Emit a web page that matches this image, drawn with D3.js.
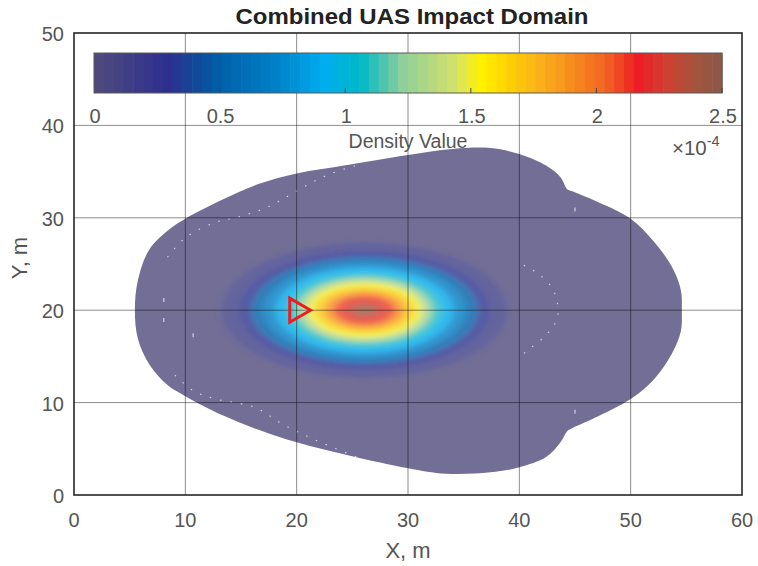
<!DOCTYPE html>
<html>
<head>
<meta charset="utf-8">
<script src="https://cdn.jsdelivr.net/npm/d3@7"></script>
<style>
  body { margin: 0; background: #fff; }
  text { font-family: "Liberation Sans", Arial, sans-serif; }
</style>
</head>
<body>
<svg id="chart" width="758" height="566"></svg>
<script>
// axis ticks
const xTicks = [0, 10, 20, 30, 40, 50, 60];
const yTicks = [0, 10, 20, 30, 40, 50];
const cbTicks = [0, 0.5, 1, 1.5, 2, 2.5];

// colormap stops (fraction of colorbar range -> colour)
const cmapPos = [0, 0.116, 0.174, 0.205, 0.29, 0.365, 0.424, 0.49, 0.575, 0.615, 0.655, 0.707, 0.75, 0.814, 0.866, 0.909, 0.962, 1];
const cmapCol = ["#4f4b7d", "#2e2f8f", "#0b4f9c", "#0062ab", "#0080c6", "#00adef", "#00b8c8", "#8dcf9c", "#d4e16b",
  "#fff200", "#ffd400", "#fbb31b", "#f7941d", "#f26522", "#ed1c24", "#d13f31", "#a0553f", "#8b5848"];

// outline of the combined impact domain (x, y in m)
const blobEdge = [
  [5.47, 20], [5.73, 23.2], [6.73, 26.5], [8.4, 28.6], [10, 29.9], [13.4, 32.0], [16.7, 33.7], [20, 34.8],
  [24.7, 35.75], [30, 36.8], [34, 37.45], [37.4, 37.55], [40, 36.9], [42.4, 35.65], [43.7, 34.4], [44.3, 33.1],
  [44.7, 32.9], [46.7, 31.9], [50, 29.9], [52, 27.55], [53.7, 24.7], [54.5, 22.2], [54.6, 20],
  [54.5, 17.7], [53.7, 15.3], [52, 12.4], [50, 10.4], [46.7, 8.3], [44.7, 7.2], [44.3, 6.9], [43.7, 5.7],
  [42.4, 4.1], [40, 3.0], [37.4, 2.45], [33.4, 2.3], [30, 2.9], [24.7, 4.28], [20, 5.7], [16.7, 7.0],
  [13.4, 8.6], [10, 10.7], [8.4, 11.9], [6.73, 14.2], [5.73, 16.96]
];

// faint white seams inside the domain
const seamUpper = [[8.4, 25.75], [10.07, 27.9], [12.7, 29.5], [14.7, 30.07], [17.4, 31.15], [20.07, 32.95], [22.7, 34.6], [25.7, 35.8]];
const seamLower = [[9.07, 12.97], [10.7, 11.3], [12.7, 10.4], [16.2, 9.5], [18.7, 7.7], [21.4, 6.1], [25.4, 4.1]];
const seamRight = [[40.4, 24.86], [41.7, 23.95], [42.9, 22.5], [43.4, 20.9], [43.4, 19.1], [42.4, 17.3], [41.0, 15.9], [40.2, 15.1]];
const seamDots = [[8.07, 21.1], [8.07, 18.95], [10.7, 17.3], [45.0, 30.9], [45.0, 9.0]];

// density contours: level (x1e-4) and half-widths in m
const densityCenter = [26.1, 20];
const densityLevels = [0.15, 0.3, 0.5, 0.7, 0.9, 1.1, 1.3, 1.5, 1.7, 1.9, 2.1, 2.25, 2.4];
const densityRx = [12.8, 11.2, 10.2, 9.1, 8.0, 6.9, 6.0, 5.2, 4.4, 3.6, 2.8, 2.0, 1.1];
const densityRy = [7.3, 6.4, 5.8, 5.2, 4.6, 4.0, 3.5, 3.0, 2.5, 2.05, 1.6, 1.15, 0.65];

// launch point marker
const markerPos = [20, 20];

const svg = d3.select("#chart");
const margin = {top: 33, right: 16, bottom: 71, left: 74};
const W = 758, H = 566;

const x = d3.scaleLinear().domain([0, 60]).range([margin.left, W - margin.right]);
const y = d3.scaleLinear().domain([0, 50]).range([H - margin.bottom, margin.top]);

const cmap = d3.scaleLinear().domain(cmapPos).range(cmapCol).interpolate(d3.interpolateRgb).clamp(true);
const cb = d3.scaleLinear().domain([0, 2.5]).range([94, 722]);
const cbTop = 53, cbBot = 93;

const defs = svg.append("defs");
defs.append("clipPath").attr("id", "plotclip")
  .append("rect").attr("x", x(0)).attr("y", y(50)).attr("width", x(60) - x(0)).attr("height", y(0) - y(50));
defs.append("filter").attr("id", "soft").attr("x", "-20%").attr("y", "-20%").attr("width", "140%").attr("height", "140%")
  .append("feGaussianBlur").attr("stdDeviation", "3.5 2.2");

// domain + density, semi-transparent as a whole
const surf = svg.append("g").attr("clip-path", "url(#plotclip)").attr("opacity", 0.8);
const line = d3.line().x(d => x(d[0])).y(d => y(d[1]));

surf.append("path")
  .attr("d", line.curve(d3.curveCatmullRomClosed.alpha(0.5))(blobEdge))
  .attr("fill", cmap(0));

const dens = surf.append("g").attr("filter", "url(#soft)");
dens.selectAll("ellipse")
  .data(densityLevels)
  .join("ellipse")
  .attr("cx", x(densityCenter[0]))
  .attr("cy", y(densityCenter[1]))
  .attr("rx", (d, i) => x(densityCenter[0] + densityRx[i]) - x(densityCenter[0]))
  .attr("ry", (d, i) => y(densityCenter[1]) - y(densityCenter[1] + densityRy[i]))
  .attr("fill", d => cmap(d / 2.5));

// seams
const seamLine = d3.line().x(d => x(d[0])).y(d => y(d[1])).curve(d3.curveCatmullRom);
const seams = svg.append("g").attr("stroke", "#fff").attr("opacity", 0.75).attr("fill", "none");
seams.selectAll("path")
  .data([seamUpper, seamLower, seamRight])
  .join("path")
  .attr("d", seamLine)
  .attr("stroke-width", 1.1)
  .attr("stroke-dasharray", "1.5 9");
seams.selectAll("line")
  .data(seamDots)
  .join("line")
  .attr("x1", d => x(d[0])).attr("x2", d => x(d[0]))
  .attr("y1", d => y(d[1]) - 2).attr("y2", d => y(d[1]) + 2)
  .attr("stroke-width", 1.1);

// grid
const grid = svg.append("g").attr("stroke", "#000").attr("stroke-opacity", 0.45).attr("stroke-width", 1);
grid.selectAll("line.gx").data(xTicks.slice(1, -1)).join("line").attr("class", "gx")
  .attr("x1", d => x(d)).attr("x2", d => x(d)).attr("y1", y(0)).attr("y2", y(50));
grid.selectAll("line.gy").data(yTicks.slice(1, -1)).join("line").attr("class", "gy")
  .attr("y1", d => y(d)).attr("y2", d => y(d)).attr("x1", x(0)).attr("x2", x(60));

// marker
svg.append("path")
  .attr("d", d3.symbol(d3.symbolTriangle, 250)())
  .attr("transform", `translate(${x(markerPos[0])},${y(markerPos[1])}) rotate(90)`)
  .attr("fill", "none")
  .attr("stroke", "#ed1c24")
  .attr("stroke-width", 3);

// colorbar
const nBands = 64;
const bands = d3.range(nBands);
const cbg = svg.append("g");
cbg.selectAll("rect.band").data(bands).join("rect").attr("class", "band")
  .attr("x", i => cb(i * 2.5 / nBands))
  .attr("y", cbTop)
  .attr("width", i => cb((i + 1) * 2.5 / nBands) - cb(i * 2.5 / nBands) + 0.6)
  .attr("height", cbBot - cbTop)
  .attr("fill", i => cmap((i + 0.5) / nBands));
cbg.append("rect")
  .attr("x", cb(0)).attr("y", cbTop).attr("width", cb(2.5) - cb(0)).attr("height", cbBot - cbTop)
  .attr("fill", "none").attr("stroke", "#5a5a5a").attr("stroke-width", 1);
cbg.selectAll("line.cbt").data(cbTicks.slice(1)).join("line").attr("class", "cbt")
  .attr("x1", d => cb(d)).attr("x2", d => cb(d)).attr("y1", cbBot).attr("y2", cbBot - 5)
  .attr("stroke", "#444").attr("stroke-width", 1);
cbg.selectAll("text").data(cbTicks).join("text")
  .attr("x", d => cb(d) + 1)
  .attr("y", 123)
  .attr("text-anchor", "middle")
  .attr("font-size", 20)
  .attr("fill", "#555")
  .text(d => d);

svg.append("text").attr("x", 408).attr("y", 148).attr("text-anchor", "middle")
  .attr("font-size", 19.5).attr("fill", "#555").text("Density Value");
const exp = svg.append("text").attr("x", 672).attr("y", 155).attr("font-size", 20.5).attr("fill", "#555");
exp.append("tspan").text("\u00d710");
exp.append("tspan").attr("dy", -9).attr("font-size", 14.5).text("-4");

// axes box
svg.append("rect")
  .attr("x", x(0)).attr("y", y(50)).attr("width", x(60) - x(0)).attr("height", y(0) - y(50))
  .attr("fill", "none").attr("stroke", "#262626").attr("stroke-width", 1.6);

// tick labels
svg.append("g").selectAll("text").data(xTicks).join("text")
  .attr("x", d => x(d)).attr("y", 527)
  .attr("text-anchor", "middle").attr("font-size", 20).attr("fill", "#555")
  .text(d => d);
svg.append("g").selectAll("text").data(yTicks).join("text")
  .attr("x", 64).attr("y", d => y(d) + 8)
  .attr("text-anchor", "end").attr("font-size", 20).attr("fill", "#555")
  .text(d => d);

// labels
svg.append("text").attr("x", x(30)).attr("y", 558).attr("text-anchor", "middle")
  .attr("font-size", 22).attr("fill", "#555").text("X, m");
svg.append("text").attr("transform", `translate(27,${(y(0) + y(50)) / 2 - 6}) rotate(-90)`)
  .attr("text-anchor", "middle").attr("font-size", 22).attr("fill", "#555").text("Y, m");
svg.append("text").attr("x", 412).attr("y", 24).attr("text-anchor", "middle")
  .attr("font-size", 22).attr("font-weight", "bold").attr("fill", "#222")
  .attr("textLength", 353).attr("lengthAdjust", "spacingAndGlyphs")
  .text("Combined UAS Impact Domain");
</script>
</body>
</html>
